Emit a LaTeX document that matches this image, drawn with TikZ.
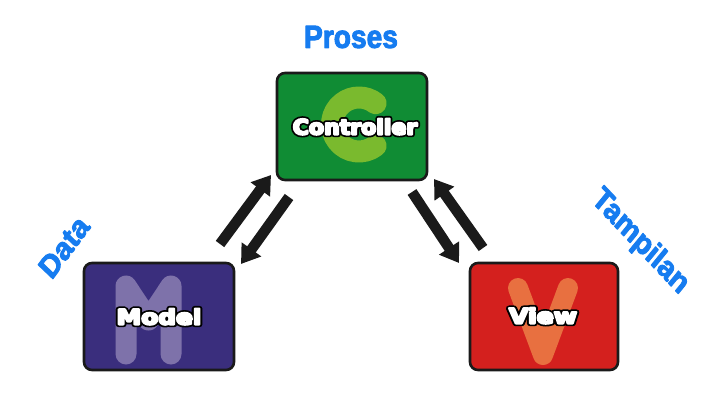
\documentclass[tikz,border=0pt]{standalone}
\usepackage{fontspec}
\setmainfont{Liberation Sans}
\newfontfamily\boxfont{DejaVu Sans}
\usetikzlibrary{arrows.meta}

\definecolor{labelblue}{RGB}{22,124,240}
\definecolor{ctrlgreen}{RGB}{16,140,52}
\definecolor{ctrlglyph}{RGB}{122,186,46}
\definecolor{modelpurple}{RGB}{58,46,125}
\definecolor{modelglyph}{RGB}{126,114,170}
\definecolor{viewred}{RGB}{212,32,30}
\definecolor{viewglyph}{RGB}{232,112,64}
\definecolor{edge}{RGB}{26,26,26}

% white heavy lettering with a black rim: a thick black stroked copy
% underneath, an emboldened white copy on top
\newcommand\rimtext[1]{%
  \leavevmode
  \rlap{\special{pdf:literal 0 g 0 G 1 j 5.4 w 2 Tr}#1\special{pdf:literal 0 Tr 0 j}}%
  {\special{pdf:literal 1 g 1 G 1 j 2 w 2 Tr}#1\special{pdf:literal 0 Tr 0 j}}}
% slightly heavier label lettering, stroked in its own colour
\newcommand\heavy[1]{%
  \special{pdf:literal 1 j 1 w 2 Tr}#1\special{pdf:literal 0 Tr 0 j}}

\tikzset{
  mvcbox/.style={draw=edge, line width=2.6pt, rounded corners=8pt,
    minimum width=150pt, minimum height=107pt, inner sep=0pt},
  glyph/.style={line width=21pt, line cap=round, line join=round},
  boxtext/.style={anchor=base, inner sep=0pt, text=white,
    font=\boxfont\bfseries\fontsize{21}{25}\selectfont},
  sidelabel/.style={text=labelblue, xscale=0.88,
    font=\bfseries\fontsize{32}{36}\selectfont},
  flow/.style={draw=edge, line width=10.5pt,
    -{Triangle[width=23pt,length=18pt]}},
}

\begin{document}
\begin{tikzpicture}[x=1pt, y=-1pt]
  \useasboundingbox[fill=white] (0,0) rectangle (718,413);

  % the three boxes
  \node[mvcbox, fill=ctrlgreen]   (ctrl)  at (352,126.5) {};
  \node[mvcbox, fill=modelpurple] (model) at (159,316.5) {};
  \node[mvcbox, fill=viewred, minimum width=148pt] (view) at (544,316.5) {};

  % large background letters
  \draw[glyph, ctrlglyph, line width=22pt] (359,124.5) ++(52:27) arc[start angle=52, end angle=308, radius=27];
  \draw[glyph, modelglyph] (126,354) -- (126,286) -- (148.5,320) -- (171,286) -- (171,354);
  \draw[glyph, viewglyph, line width=20pt] (518,288) -- (543,355) -- (568,288);

  % box captions
  \node[boxtext, xscale=1.05] (ctrltext)  at (355,134.5) {\rimtext{Controller}};
  \node[boxtext, xscale=1.18] (modeltext) at (159,324.5) {\rimtext{Model}};
  \node[boxtext, xscale=1.2]  (viewtext)  at (543,323.5) {\rimtext{View}};

  % role labels
  \node[sidelabel] (proses) at (351,37) {\heavy{Proses}};
  \node[sidelabel, rotate=50] (data) at (64,247) {\heavy{Data}};
  \node[sidelabel, rotate=-43] (tampilan) at (640,242) {\heavy{Tampilan}};

  % arrow end points between the boxes
  \coordinate (mc1) at (220,244);
  \coordinate (mc2) at (271,175);
  \coordinate (cm1) at (289,197);
  \coordinate (cm2) at (241,264);
  \coordinate (cv1) at (412,192);
  \coordinate (cv2) at (459,263);
  \coordinate (vc1) at (483,248);
  \coordinate (vc2) at (434,179);

  \draw[flow] (mc1) -- (mc2);
  \draw[flow] (cm1) -- (cm2);
  \draw[flow] (cv1) -- (cv2);
  \draw[flow] (vc1) -- (vc2);
\end{tikzpicture}
\end{document}
